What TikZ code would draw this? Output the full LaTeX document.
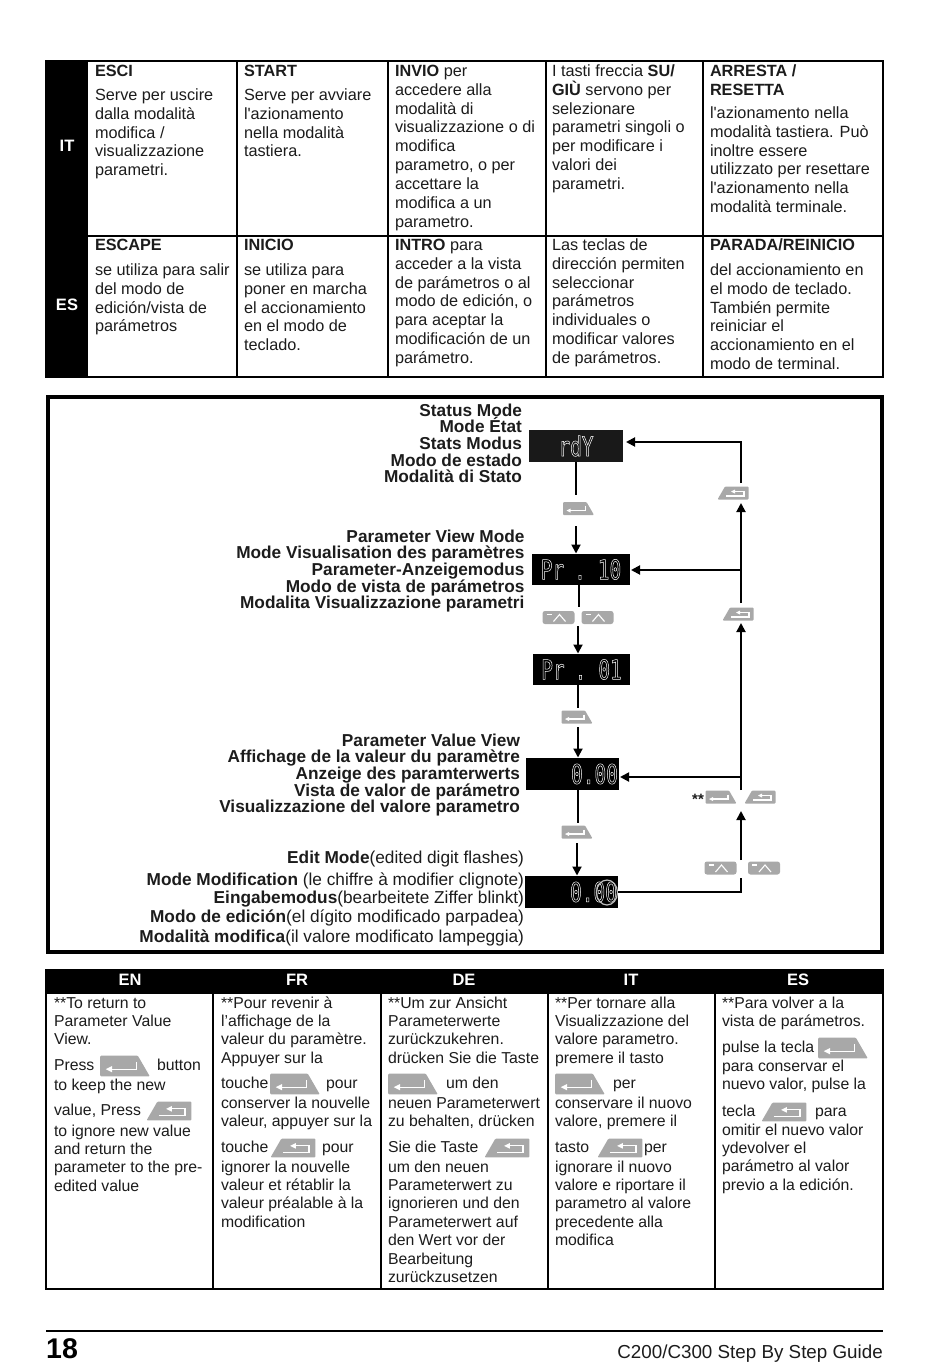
\documentclass[tikz,border=0pt]{standalone}
\usepackage{fontspec}
\setmainfont{Liberation Sans}[Ligatures=TeXOff]
\newfontfamily\segfont[FakeStretch=0.72]{DejaVu Sans Mono}[Ligatures=TeXOff]
\usetikzlibrary{arrows.meta,calc}
\definecolor{ink}{HTML}{1C1C1C}
\definecolor{keygrey}{HTML}{A8A8A8}
\newcommand{\outl}[1]{\special{pdf:code 1 1 1 RG 1 Tr 0.5 w}#1\special{pdf:code 0 Tr}}
\tikzset{
  tx/.style={inner sep=0pt,outer sep=0pt,anchor=north west,align=left,text=ink,font=\fontsize{16.25}{18.9}\selectfont},
  txb/.style={tx,font=\fontsize{15.8}{18.4}\selectfont},
  lab/.style={inner sep=0pt,outer sep=0pt,anchor=north east,align=right,text=ink,font=\fontsize{17.25}{16.7}\selectfont\bfseries},
  labn/.style={lab,font=\fontsize{17.25}{16.7}\selectfont},
  rule/.style={draw=black,line width=1.6pt},
  heavy/.style={draw=black,line width=2.6pt},
  disp/.style={fill=black,draw=none,inner sep=0pt,text=white,font=\fontsize{27}{27}\segfont},
  conn/.style={draw=black,line width=1.9pt},
  arr/.style={conn,-{Triangle[length=9pt,width=9pt]}},
  hdr/.style={inner sep=0pt,text=white,font=\fontsize{16.5}{18}\selectfont\bfseries},
  enterkey/.pic={
    \fill[keygrey,rounded corners=1pt] (-15.5,-6.5)--(8,-6.5)--(15.5,6.5)--(-15.5,6.5)--cycle;
    \draw[white,line width=1.1pt] (7,-2.5)--(7,2)--(-10,2);
    \fill[white] (-12,2)--(-8,0)--(-8,4)--cycle;
  },
  backkey/.pic={
    \fill[keygrey,rounded corners=1pt] (-15.5,6.5)--(-8,-6.5)--(15.5,-6.5)--(15.5,6.5)--cycle;
    \draw[white,line width=1.1pt] (-7,3)--(11,3)--(11,-1.5)--(1,-1.5);
    \fill[white] (-2,-1.5)--(2,-3.5)--(2,.5)--cycle;
  },
  upkey/.pic={
    \fill[keygrey,rounded corners=2.5pt] (-16,-6.5) rectangle (16,6.5);
    \draw[white,line width=1.1pt] (-12,-3)--(-7,-3);
    \draw[white,line width=1.1pt] (-5,4)--(1,-3)--(7,4);
  },
}
\newcommand{\T}[4]{\node[tx] (#1) at (#2,#3) {\strut #4};}
\newcommand{\Tb}[4]{\node[txb] (#1) at (#2,#3) {\strut #4};}
\begin{document}
\begin{tikzpicture}[x=1pt,y=-1pt]
\lineskiplimit=-20pt\relax
\useasboundingbox (0,0) rectangle (950,1368);
\fill[white] (0,0) rectangle (950,1368);

% ---------- top table
\fill[black] (46,61) rectangle (88,377);
\path[heavy] (46,61) rectangle (883,377);
\path[rule] (88,236)--(883,236);
\foreach \x in {237,388,546,703}{\path[rule] (\x,61)--(\x,377);}
\node[hdr] (lit) at (67,146) {IT};
\node[hdr] (les) at (67,305) {ES};

\T{a1h}{95}{63}{\textbf{ESCI}}
\T{a1}{95}{87}{Serve per uscire\\dalla modalità\\modifica /\\visualizzazione\\parametri.}
\T{a2h}{244}{63}{\textbf{START}}
\T{a2}{244}{87}{Serve per avviare\\l'azionamento\\nella modalità\\tastiera.}
\T{a3}{395}{63}{\textbf{INVIO} per\\accedere alla\\modalità di\\visualizzazione o di\\modifica\\parametro, o per\\accettare la\\modifica a un\\parametro.}
\T{a4}{552}{63}{I tasti freccia \textbf{SU/}\\\textbf{GIÙ} servono per\\selezionare\\parametri singoli o\\per modificare i\\valori dei\\parametri.}
\T{a5h}{710}{63}{\textbf{ARRESTA /}\\\textbf{RESETTA}}
\T{a5}{710}{105}{l'azionamento nella\\modalità tastiera. Può\\inoltre essere\\utilizzato per resettare\\l'azionamento nella\\modalità terminale.}

\T{b1h}{95}{237}{\textbf{ESCAPE}}
\T{b1}{95}{262}{se utiliza para salir\\del modo de\\edición/vista de\\parámetros}
\T{b2h}{244}{237}{\textbf{INICIO}}
\T{b2}{244}{262}{se utiliza para\\poner en marcha\\el accionamiento\\en el modo de\\teclado.}
\T{b3}{395}{237}{\textbf{INTRO} para\\acceder a la vista\\de parámetros o al\\modo de edición, o\\para aceptar la\\modificación de un\\parámetro.}
\T{b4}{552}{237}{Las teclas de\\dirección permiten\\seleccionar\\parámetros\\individuales o\\modificar valores\\de parámetros.}
\T{b5h}{710}{237}{\textbf{PARADA/REINICIO}}
\T{b5}{710}{262}{del accionamiento en\\el modo de teclado.\\También permite\\reiniciar el\\accionamiento en el\\modo de terminal.}

% ---------- flow frame
\draw[black,line width=3.6pt] (48,397) rectangle (882,952);

\node[lab] (l1) at (522,403.5) {\strut Status Mode\\Mode État\\Stats Modus\\Modo de estado\\Modalità di Stato};
\node[lab] (l2) at (524.5,529.5) {\strut Parameter View Mode\\Mode Visualisation des paramètres\\Parameter-Anzeigemodus\\Modo de vista de parámetros\\Modalita Visualizzazione parametri};
\node[lab] (l3) at (520,733.5) {\strut Parameter Value View\\Affichage de la valeur du paramètre\\Anzeige des paramterwerts\\Vista de valor de parámetro\\Visualizzazione del valore parametro};
\node[labn] (l4a) at (524,850.5) {\strut\textbf{Edit Mode}(edited digit flashes)};
\node[labn] (l4b) at (524,873) {\strut\textbf{Mode Modification} (le chiffre à modifier clignote)};
\node[labn] (l4c) at (524,891) {\strut\textbf{Eingabemodus}(bearbeitete Ziffer blinkt)};
\node[labn] (l4d) at (524,910) {\strut\textbf{Modo de edición}(el dígito modificado parpadea)};
\node[labn] (l4e) at (524,929.5) {\strut\textbf{Modalità modifica}(il valore modificato lampeggia)};

% displays
\node[disp,fill=black!90,minimum width=94pt,minimum height=32pt] (rdy) at (576,446) {\outl{rdY}};
\node[disp,minimum width=98pt,minimum height=31pt] (pa) at (581,569.5) {\outl{Pr\hspace{10pt}.\hspace{12pt}10}};
\node[disp,minimum width=97pt,minimum height=31pt] (pb) at (581.5,669.5) {\outl{Pr\hspace{10pt}.\hspace{12pt}01}};
\node[disp,minimum width=93pt,minimum height=32pt] (va) at (572.5,774) {\hspace{44pt}\outl{0.00}};
\node[disp,minimum width=93pt,minimum height=32pt] (vb) at (571.5,892) {\hspace{44pt}\outl{0.00}};
\draw[black!25,line width=1.2pt] (607,892.5) ellipse (10.5pt and 12.5pt);

% connector ends
\coordinate (c1a) at (576,495);
\coordinate (c1b) at (576,526);
\coordinate (c1c) at (576,553.5);
\coordinate (c2a) at (579,607);
\coordinate (c2b) at (578,626);
\coordinate (c2c) at (578,653.5);
\coordinate (c3s) at (578,685);
\coordinate (c3a) at (578,708);
\coordinate (c3b) at (578,727);
\coordinate (c3c) at (578,757.5);
\coordinate (c4s) at (578,790);
\coordinate (c4a) at (578,823);
\coordinate (c4b) at (577,843);
\coordinate (c4c) at (577,875.5);
\coordinate (r1) at (741,878);
\coordinate (r1c) at (741,892);
\coordinate (r2) at (741,860);
\coordinate (r3) at (741,811);
\coordinate (r4) at (741,790);
\coordinate (r5) at (741,623);
\coordinate (r6) at (741,603);
\coordinate (r7) at (741,503);
\coordinate (r8) at (741,483);
\coordinate (r8c) at (741,442);
\coordinate (ta) at (626,442);
\coordinate (tb) at (631,570);
\coordinate (tc) at (620,777);
\coordinate (s1) at (741,570);
\coordinate (s2) at (741,777);

\path[conn] (rdy.south -| c1a)--(c1a);
\path[arr] (c1b)--(c1c);
\path[conn] (pa.south -| c2a)--(c2a);
\path[arr] (c2b)--(c2c);
\path[conn] (c3s)--(c3a);
\path[arr] (c3b)--(c3c);
\path[conn] (c4s)--(c4a);
\path[arr] (c4b)--(c4c);
\path[conn] (vb.east |- r1c)--(r1c)--(r1);
\path[arr] (r2)--(r3);
\path[arr] (r4)--(r5);
\path[arr] (r6)--(r7);
\path[arr] (r8)--(r8c)--(ta);
\path[arr] (s1)--(tb);
\path[arr] (s2)--(tc);

% keys in the flow
\pic (k1) at (578.5,508.5) {enterkey};
\pic (k2) at (558.5,617.5) {upkey};
\pic (k3) at (597.5,617.5) {upkey};
\pic (k4) at (577,717) {enterkey};
\pic (k5) at (577,832) {enterkey};
\pic (k6) at (733,493) {backkey};
\pic (k7) at (738,614) {backkey};
\pic (k8) at (721,797) {enterkey};
\pic (k9) at (760,797) {backkey};
\pic (k10) at (720.5,868) {upkey};
\pic (k11) at (764,868) {upkey};
\node[inner sep=0pt,text=ink,font=\fontsize{15}{15}\selectfont\bfseries] (ss) at (698,799) {**};

% ---------- lower table
\fill[black] (46,970) rectangle (883,994);
\path[heavy] (46,970) rectangle (883,1289);
\foreach \x in {213,381,548,715}{\path[rule] (\x,994)--(\x,1289);}
\node[hdr] (hen) at (130,980) {EN};
\node[hdr] (hfr) at (297,980) {FR};
\node[hdr] (hde) at (464,980) {DE};
\node[hdr] (hit) at (631,980) {IT};
\node[hdr] (hes) at (798,980) {ES};

% EN
\Tb{e1}{54}{995.3}{**To return to\\Parameter Value\\View.}
\Tb{e2}{54}{1057.3}{Press}
\pic[scale=1.6] (ek1) at (125,1066) {enterkey};
\Tb{e3}{157}{1057.3}{button}
\Tb{e4}{54}{1077.3}{to keep the new}
\Tb{e5}{54}{1102.3}{value, Press}
\pic[scale=1.45] (ek2) at (169,1111) {backkey};
\Tb{e6}{54}{1123.3}{to ignore new value\\and return the\\parameter to the pre-\\edited value}
% FR
\Tb{f1}{221}{995.3}{**Pour revenir à\\l’affichage de la\\valeur du paramètre.\\Appuyer sur la}
\Tb{f2}{221}{1075.3}{touche}
\pic[scale=1.6] (fk1) at (295,1084) {enterkey};
\Tb{f3}{326}{1075.3}{pour}
\Tb{f4}{221}{1095.3}{conserver la nouvelle\\valeur, appuyer sur la}
\Tb{f5}{221}{1139.3}{touche}
\pic[scale=1.45] (fk2) at (293,1148) {backkey};
\Tb{f6}{322}{1139.3}{pour}
\Tb{f7}{221}{1159.3}{ignorer la nouvelle\\valeur et rétablir la\\valeur préalable à la\\modification}
% DE
\Tb{d1}{388}{995.3}{**Um zur Ansicht\\Parameterwerte\\zurückzukehren.\\drücken Sie die Taste}
\pic[scale=1.6] (dk1) at (413,1084) {enterkey};
\Tb{d2}{446}{1075.3}{um den}
\Tb{d3}{388}{1095.3}{neuen Parameterwert\\zu behalten, drücken}
\Tb{d4}{388}{1139.3}{Sie die Taste}
\pic[scale=1.45] (dk2) at (507,1148) {backkey};
\Tb{d5}{388}{1159.3}{um den neuen\\Parameterwert zu\\ignorieren und den\\Parameterwert auf\\den Wert vor der\\Bearbeitung\\zurückzusetzen}
% IT
\Tb{i1}{555}{995.3}{**Per tornare alla\\Visualizzazione del\\valore parametro.\\premere il tasto}
\pic[scale=1.6] (ik1) at (580,1084) {enterkey};
\Tb{i2}{613}{1075.3}{per}
\Tb{i3}{555}{1095.3}{conservare il nuovo\\valore, premere il}
\Tb{i4}{555}{1139.3}{tasto}
\pic[scale=1.45] (ik2) at (620,1148) {backkey};
\Tb{i5}{644}{1139.3}{per}
\Tb{i6}{555}{1159.3}{ignorare il nuovo\\valore e riportare il\\parametro al valore\\precedente alla\\modifica}
% ES
\Tb{s1t}{722}{995.3}{**Para volver a la\\vista de parámetros.}
\Tb{s2t}{722}{1039.3}{pulse la tecla}
\pic[scale=1.6] (sk1) at (843,1048) {enterkey};
\Tb{s3t}{722}{1058.3}{para conservar el\\nuevo valor, pulse la}
\Tb{s4t}{722}{1103.3}{tecla}
\pic[scale=1.45] (sk2) at (784,1112) {backkey};
\Tb{s5t}{815}{1103.3}{para}
\Tb{s6t}{722}{1122.3}{omitir el nuevo valor\\ydevolver el\\parámetro al valor\\previo a la edición.}

% ---------- footer
\coordinate (fl) at (46,1331);
\coordinate (fr) at (883,1331);
\path[draw=black,line width=2.8pt] (fl)--(fr);
\node[inner sep=0pt,anchor=base west,text=black,font=\fontsize{28.5}{30}\selectfont\bfseries] (pg) at (46,1358) {18};
\node[inner sep=0pt,anchor=base east,text=ink,font=\fontsize{18.8}{20}\selectfont] (ttl) at (883,1358) {C200/C300 Step By Step Guide};
\end{tikzpicture}
\end{document}
